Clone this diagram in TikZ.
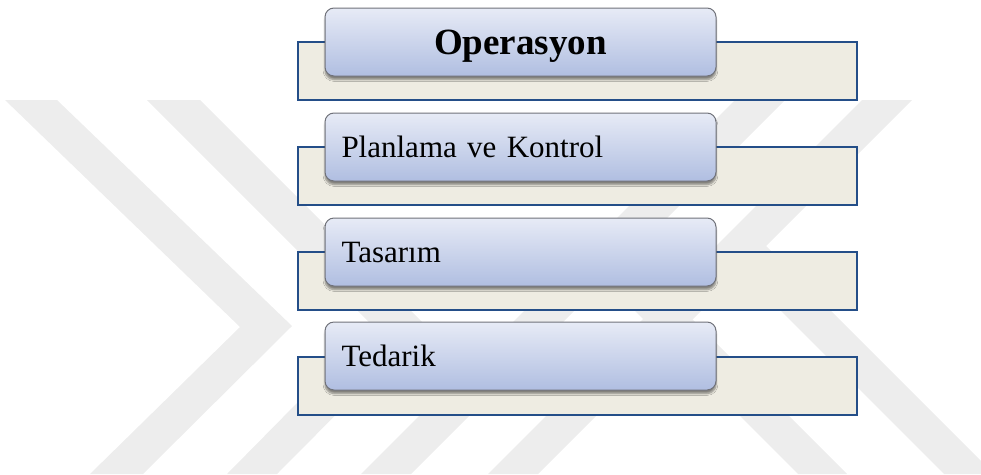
\documentclass[tikz,border=0pt]{standalone}
\usepackage{fontspec}
\setmainfont{Liberation Serif}
\usetikzlibrary{shadows.blur}

\definecolor{markgray}{RGB}{237,237,237}
\definecolor{panelblue}{RGB}{36,78,136}
\definecolor{panelbeige}{RGB}{238,236,226}
\definecolor{boxtop}{RGB}{231,235,246}
\definecolor{boxbottom}{RGB}{176,190,225}
\definecolor{boxedge}{RGB}{112,114,122}

\tikzset{
  backbox/.style={draw=panelblue, line width=2pt, fill=panelbeige,
    minimum width=559pt, minimum height=58pt, inner sep=0pt},
  frontbox/.style={draw=boxedge, line width=1pt, rounded corners=9pt,
    top color=boxtop, bottom color=boxbottom,
    blur shadow={shadow xshift=0pt, shadow yshift=-3.5pt, shadow opacity=45,
      shadow blur steps=6},
    minimum height=68pt, text width=358pt, inner xsep=16.5pt,
    align=left, text height=20.5pt, text depth=0pt,
    font=\fontsize{31}{36}\selectfont},
  headbox/.style={align=center, text height=24.5pt,
    font=\fontsize{37}{44}\selectfont\bfseries},
}

\begin{document}
\begin{tikzpicture}
  \useasboundingbox (0pt, 0pt) rectangle (981pt, -474pt);

  % watermark
  \fill[markgray] (5pt, -100pt) -- (57pt, -100pt) -- (292pt, -326pt) -- (143pt, -474pt) -- (90pt, -474pt) -- (240pt, -327pt) -- cycle;
  \fill[markgray] (147pt, -100pt) -- (200pt, -100pt) -- (425pt, -325pt) -- (277pt, -474pt) -- (227pt, -474pt) -- (373pt, -326pt) -- cycle;
  \fill[markgray] (361pt, -474pt) -- (411pt, -474pt) -- (785pt, -100pt) -- (735pt, -100pt) -- cycle;
  \fill[markgray] (488pt, -474pt) -- (538pt, -474pt) -- (912pt, -100pt) -- (862pt, -100pt) -- cycle;
  \fill[markgray] (580pt, -256pt) -- (629pt, -256pt) -- (847pt, -474pt) -- (798pt, -474pt) -- cycle;
  \fill[markgray] (716pt, -246pt) -- (766pt, -246pt) -- (981pt, -461pt) -- (981pt, -474pt) -- (944pt, -474pt) -- cycle;

  \node[backbox] (operback) at (577.5pt, -71pt) {};
  \node[backbox] (planback) at (577.5pt, -176pt) {};
  \node[backbox] (tasback) at (577.5pt, -281pt) {};
  \node[backbox] (tedback) at (577.5pt, -386pt) {};

  \node[frontbox, headbox] (oper) at (520.5pt, -42pt) {Operasyon};
  \node[frontbox] (plan) at (520.5pt, -147pt) {Planlama ve Kontrol};
  \node[frontbox] (tas) at (520.5pt, -252pt) {Tasarım};
  \node[frontbox] (ted) at (520.5pt, -356pt) {Tedarik};

\end{tikzpicture}
\end{document}
